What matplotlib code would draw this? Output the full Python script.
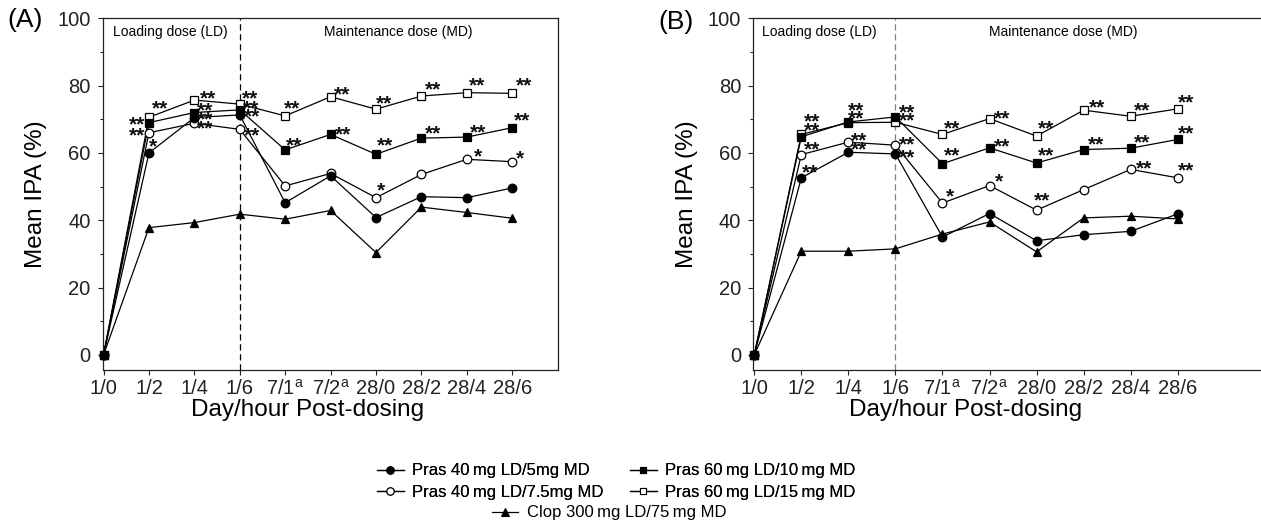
import numpy as np
import matplotlib
matplotlib.use("Agg")
import matplotlib.pyplot as plt
import matplotlib.transforms as mtransforms
from matplotlib.lines import Line2D
from matplotlib.ticker import MultipleLocator

plt.rcParams['font.family'] = ['Liberation Sans', 'DejaVu Sans']
plt.rcParams['mathtext.fontset'] = 'custom'
plt.rcParams['mathtext.rm'] = 'Liberation Sans'

# x categories (day/hour post-dosing)
xlabels = ['1/0', '1/2', '1/4', '1/6', r'7/1$^{\mathrm{a}}$', r'7/2$^{\mathrm{a}}$',
           '28/0', '28/2', '28/4', '28/6']

# panel A - mean IPA (%)
a_p40_5 = [0, 60.0, 70.5, 71.3, 45.2, 53.2, 40.8, 47.0, 46.7, 49.6]
a_p40_75 = [0, 66.0, 68.8, 67.0, 50.2, 53.9, 46.7, 53.6, 58.1, 57.4]
a_p60_10 = [0, 69.0, 72.0, 72.8, 60.9, 65.5, 59.6, 64.4, 64.7, 67.5]
a_p60_15 = [0, 70.6, 75.7, 74.5, 71.0, 76.7, 73.0, 76.9, 77.9, 77.7]
a_clop = [0, 37.8, 39.3, 41.8, 40.3, 42.9, 30.4, 43.9, 42.3, 40.6]

# panel B - mean IPA (%)
b_p40_5 = [0, 52.6, 60.2, 59.7, 35.0, 42.0, 33.9, 35.7, 36.7, 41.9]
b_p40_75 = [0, 59.5, 63.2, 62.3, 45.1, 50.3, 43.0, 49.1, 55.1, 52.6]
b_p60_10 = [0, 64.8, 69.2, 70.7, 56.8, 61.5, 57.0, 61.0, 61.4, 64.0]
b_p60_15 = [0, 65.5, 69.0, 69.1, 65.5, 70.2, 65.0, 72.7, 70.9, 73.1]
b_clop = [0, 30.8, 30.8, 31.5, 35.9, 39.5, 30.6, 40.7, 41.2, 40.4]

names = {
    'p40_5': 'Pras 40\u2009mg LD/5mg MD',
    'p60_10': 'Pras 60\u2009mg LD/10\u2009mg MD',
    'p40_75': 'Pras 40\u2009mg LD/7.5mg MD',
    'p60_15': 'Pras 60\u2009mg LD/15\u2009mg MD',
    'clop': 'Clop 300\u2009mg LD/75\u2009mg MD',
}

# significance marks: (series, index, text)
a_sig = [('p60_15', 1, '**'), ('p60_15', 2, '**'), ('p60_15', 3, '**'), ('p60_15', 4, '**'),
         ('p60_15', 5, '**'), ('p60_15', 6, '**'), ('p60_15', 7, '**'), ('p60_15', 8, '**'),
         ('p60_15', 9, '**'),
         ('p60_10', 1, '**'), ('p60_10', 2, '**'), ('p60_10', 3, '**'), ('p60_10', 4, '**'),
         ('p60_10', 5, '**'), ('p60_10', 6, '**'), ('p60_10', 7, '**'), ('p60_10', 8, '**'),
         ('p60_10', 9, '**'),
         ('p40_75', 1, '**'), ('p40_75', 2, '**'), ('p40_75', 3, '**'), ('p40_75', 6, '*'),
         ('p40_75', 8, '*'), ('p40_75', 9, '*'),
         ('p40_5', 1, '*'), ('p40_5', 2, '**'), ('p40_5', 3, '**')]
b_sig = [('p60_15', 1, '**'), ('p60_15', 2, '**'), ('p60_15', 3, '**'), ('p60_15', 4, '**'),
         ('p60_15', 5, '**'), ('p60_15', 6, '**'), ('p60_15', 7, '**'), ('p60_15', 8, '**'),
         ('p60_15', 9, '**'),
         ('p60_10', 1, '**'), ('p60_10', 2, '**'), ('p60_10', 3, '**'), ('p60_10', 4, '**'),
         ('p60_10', 5, '**'), ('p60_10', 6, '**'), ('p60_10', 7, '**'), ('p60_10', 8, '**'),
         ('p60_10', 9, '**'),
         ('p40_75', 1, '**'), ('p40_75', 2, '**'), ('p40_75', 3, '**'), ('p40_75', 4, '*'),
         ('p40_75', 5, '*'), ('p40_75', 6, '**'), ('p40_75', 8, '**'), ('p40_75', 9, '**'),
         ('p40_5', 1, '**'), ('p40_5', 2, '**'), ('p40_5', 3, '**')]

# label offsets in pixels (dx to text edge, dy downwards), alignment
a_off = [(3, -10, 'left'), (6, -3, 'left'), (2, -7, 'left'), (-1, -9, 'left'), (3, -4, 'left'),
         (0, -7, 'left'), (4, -8, 'left'), (2, -9, 'left'), (4, -9, 'left'),
         (-4, 0, 'right'), (3, -4, 'left'), (3, -3, 'left'), (1, -6, 'left'), (4, -2, 'left'),
         (1, -10, 'left'), (4, -6, 'left'), (3, -6, 'left'), (2, -9, 'left'),
         (-4, 1, 'right'), (3, 4, 'left'), (4, 5, 'left'), (1, -9, 'left'), (7, -4, 'left'),
         (4, -5, 'left'),
         (0, -8, 'left'), (3, 0, 'left'), (4, 0, 'left')]
b_off = [(3, -15, 'left'), (0, -14, 'left'), (3, -3, 'left'), (1, -8, 'left'), (4, -2, 'left'),
         (1, -9, 'left'), (5, -4, 'left'), (3, -7, 'left'), (0, -8, 'left'),
         (3, -8, 'left'), (0, -5, 'left'), (3, -6, 'left'), (1, -10, 'left'), (4, -3, 'left'),
         (1, -9, 'left'), (4, -7, 'left'), (3, -7, 'left'), (0, -8, 'left'),
         (3, -7, 'left'), (3, -3, 'left'), (3, -2, 'left'), (3, -8, 'left'), (5, -6, 'left'),
         (-3, -11, 'left'), (5, -3, 'left'), (0, -9, 'left'),
         (1, -7, 'left'), (3, -4, 'left'), (3, 2, 'left')]

styles = {
    'clop': dict(marker='^', mfc='black', ms=6),
    'p60_15': dict(marker='s', mfc='white', ms=5.3),
    'p60_10': dict(marker='s', mfc='black', ms=5.3),
    'p40_75': dict(marker='o', mfc='white', ms=6.2),
    'p40_5': dict(marker='o', mfc='black', ms=6.2),
}

fig = plt.figure(figsize=(12.61, 5.32), dpi=100)
ax_a = fig.add_axes([0.0814, 0.3045, 0.3608, 0.6611])
ax_b = fig.add_axes([0.5974, 0.3045, 0.4030, 0.6611])

x = np.arange(len(xlabels))
sig_fs = 15


def draw_panel(ax, data, sig, off, xmax, dash_color, md_x, loading_x):
    for key in ['clop', 'p60_15', 'p60_10', 'p40_75', 'p40_5']:
        st = styles[key]
        ax.plot(x, data[key], color='black', lw=0.9, marker=st['marker'],
                mfc=st['mfc'], mec='black', mew=0.9, ms=st['ms'], zorder=3, clip_on=False)
    fs_px = sig_fs * 100 / 72
    for (key, i, txt), (dx, dy, ha) in zip(sig, off):
        ax.annotate(txt, (x[i], data[key][i]), xytext=(dx, -dy - 0.36 * fs_px),
                    textcoords='offset pixels', ha=ha, va='baseline', fontsize=sig_fs,
                    fontweight='bold', color='#111111', zorder=4)
    ax.axvline(3, color=dash_color, lw=0.9, ls=(0, (5, 3)), zorder=1)
    ax.set_xlim(-0.02, xmax)
    ax.set_ylim(-4.5, 100)
    ax.set_xticks(x)
    ax.set_xticklabels(xlabels)
    ax.yaxis.set_major_locator(MultipleLocator(20))
    ax.yaxis.set_minor_locator(MultipleLocator(10))
    ax.tick_params(axis='both', which='major', direction='out', length=3.8, width=0.8,
                   labelsize=14.5, colors='#222222')
    ax.tick_params(axis='y', which='major', pad=5)
    ax.tick_params(axis='x', which='major', pad=2.5)
    ax.tick_params(axis='y', which='minor', direction='out', length=2.2, width=0.8, colors='#222222')
    for s in ax.spines.values():
        s.set_linewidth(0.9)
        s.set_color('#222222')
    ax.text(loading_x, 96, 'Loading dose (LD)', ha='left', va='center', fontsize=10)
    ax.text(md_x, 96, 'Maintenance dose (MD)', ha='center', va='center', fontsize=10)
    blend = mtransforms.blended_transform_factory(ax.transData, ax.transAxes)
    ax.text(4.5, -0.115, 'Day/hour Post-dosing', transform=blend, ha='center', va='center',
            fontsize=17.5)
    ax.set_ylabel('Mean IPA (%)', fontsize=17.5, labelpad=7)


data_a = dict(p40_5=a_p40_5, p40_75=a_p40_75, p60_10=a_p60_10, p60_15=a_p60_15, clop=a_clop)
data_b = dict(p40_5=b_p40_5, p40_75=b_p40_75, p60_10=b_p60_10, p60_15=b_p60_15, clop=b_clop)

draw_panel(ax_a, data_a, a_sig, a_off, 10.0, 'black', 6.5, 0.2)
draw_panel(ax_b, data_b, b_sig, b_off, 10.78, '#808080', 6.57, 0.17)
ax_b.spines['right'].set_visible(False)

fig.text(0.006, 0.962, '(A)', fontsize=19, ha='left', va='center')
fig.text(0.522, 0.958, '(B)', fontsize=19, ha='left', va='center')


# legend
def handle(key):
    st = styles[key]
    return Line2D([], [], color='black', lw=0.9, marker=st['marker'], mfc=st['mfc'],
                  mec='black', mew=0.8, ms=st['ms'] * 0.85)


order = ['p40_5', 'p40_75', 'p60_10', 'p60_15']
leg1 = fig.legend([handle(k) for k in order], [names[k] for k in order], ncol=2,
                  loc='center', bbox_to_anchor=(0.4885, 0.0945), frameon=False, fontsize=12,
                  handlelength=1.6, handletextpad=0.5, columnspacing=1.6, labelspacing=0.4,
                  borderpad=0)
fig.add_artist(leg1)
fig.legend([handle('clop')], [names['clop']], loc='center', bbox_to_anchor=(0.483, 0.036),
           frameon=False, fontsize=12, handlelength=1.6, handletextpad=0.5, borderpad=0)

fig.savefig('out.png', dpi=100)
